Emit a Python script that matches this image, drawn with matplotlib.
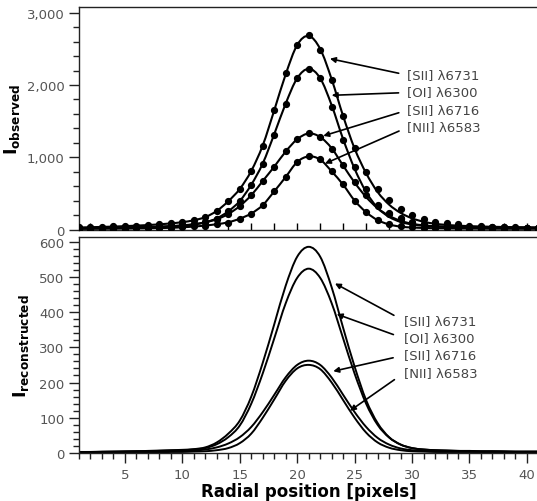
import matplotlib
matplotlib.use("Agg")
import matplotlib.pyplot as plt
from matplotlib.path import Path
from matplotlib.patches import PathPatch
from matplotlib.ticker import MultipleLocator, FuncFormatter

# radial positions in pixels
radial = list(range(1, 42))

# observed intensities (dots)
sii6731_obs = [30, 33, 37, 42, 48, 55, 63, 72, 85, 100, 125, 170, 260, 390, 560, 810, 1160, 1660, 2160, 2560,
               2690, 2490, 2070, 1570, 1130, 800, 565, 405, 290, 205, 145, 108, 85, 70, 55, 45, 38, 32, 28, 25, 22]
oi6300_obs = [15, 17, 20, 22, 25, 28, 32, 37, 45, 55, 70, 100, 152, 253, 391, 622, 913, 1314, 1743, 2098,
              2220, 2098, 1700, 1240, 870, 560, 340, 215, 140, 95, 70, 52, 42, 35, 30, 27, 24, 22, 20, 18, 17]
sii6716_obs = [20, 22, 24, 27, 30, 33, 37, 42, 50, 60, 75, 100, 140, 215, 330, 475, 674, 867, 1083, 1250,
               1335, 1282, 1120, 890, 660, 475, 330, 230, 160, 110, 80, 60, 48, 40, 35, 32, 30, 28, 27, 26, 25]
nii6583_obs = [10, 11, 12, 13, 14, 15, 17, 20, 25, 32, 42, 55, 72, 97, 152, 221, 336, 530, 729, 936,
               1015, 972, 806, 625, 400, 245, 135, 75, 45, 30, 22, 18, 15, 13, 12, 11, 10, 10, 9, 9, 9]

# fitted profiles (lines, top panel)
sii6731_fit = [28, 32, 36, 41, 47, 54, 62, 72, 85, 102, 128, 172, 258, 392, 562, 812, 1165, 1650, 2150, 2555,
               2680, 2500, 2080, 1570, 1120, 780, 520, 345, 230, 155, 108, 80, 64, 54, 47, 42, 38, 35, 32, 30, 28]
oi6300_fit = [14, 16, 19, 21, 24, 27, 31, 36, 44, 54, 70, 100, 155, 252, 395, 620, 915, 1320, 1745, 2095,
              2225, 2095, 1720, 1250, 840, 520, 300, 175, 105, 70, 52, 42, 36, 32, 30, 28, 26, 25, 24, 23, 22]
sii6716_fit = [18, 21, 23, 26, 29, 32, 36, 41, 48, 58, 74, 100, 142, 215, 325, 475, 672, 870, 1080, 1250,
               1330, 1280, 1125, 885, 650, 450, 295, 190, 120, 80, 58, 46, 40, 36, 33, 31, 29, 28, 27, 26, 25]
nii6583_fit = [9, 10, 11, 12, 13, 15, 17, 20, 24, 31, 41, 55, 74, 100, 150, 222, 338, 528, 728, 935,
               1012, 968, 805, 620, 400, 240, 130, 70, 40, 28, 22, 18, 16, 14, 13, 12, 11, 11, 10, 10, 10]

# reconstructed intensities (bottom panel)
sii6731_rec = [3, 3, 4, 4, 5, 5, 6, 7, 8, 9, 11, 16, 30, 55, 92, 160, 256, 365, 475, 557,
               585, 557, 470, 355, 245, 150, 85, 45, 24, 14, 10, 8, 7, 6, 6, 5, 5, 5, 4, 4, 4]
oi6300_rec = [3, 3, 3, 4, 4, 5, 5, 6, 7, 8, 10, 14, 25, 45, 78, 140, 226, 325, 425, 497,
              523, 497, 425, 325, 225, 140, 80, 44, 24, 14, 10, 8, 7, 6, 5, 5, 5, 4, 4, 4, 4]
sii6716_rec = [2, 2, 3, 3, 3, 4, 4, 5, 5, 6, 7, 10, 16, 27, 45, 74, 116, 165, 215, 250,
               262, 250, 214, 165, 116, 74, 43, 24, 13, 8, 6, 5, 4, 4, 4, 3, 3, 3, 3, 3, 3]
nii6583_rec = [1, 1, 1, 1, 2, 2, 2, 2, 3, 3, 4, 5, 8, 14, 28, 55, 100, 152, 205, 240,
               250, 238, 200, 150, 100, 58, 30, 15, 8, 5, 4, 3, 3, 3, 3, 3, 2, 2, 2, 2, 2]

labels = ["[SII] λ6731", "[OI] λ6300", "[SII] λ6716", "[NII] λ6583"]

# arrow tips and label positions (data coords)
top_tips = [(22.85, 2365), (23.0, 1858), (22.27, 1296), (22.42, 913)]
top_text_y = [2148, 1905, 1660, 1420]
bot_tips = [(23.29, 481), (23.44, 394), (23.14, 232), (24.6, 120)]
bot_text_y = [377, 327, 279, 229]

tick_col = "#555555"
text_col = "#444444"


def smooth_line(ax, xs, ys, lw):
    # bezier path through the points (catmull-rom handles)
    verts = [(xs[0], ys[0])]
    codes = [Path.MOVETO]
    n = len(xs)
    for i in range(n - 1):
        x0, y0 = xs[max(i - 1, 0)], ys[max(i - 1, 0)]
        x1, y1 = xs[i], ys[i]
        x2, y2 = xs[i + 1], ys[i + 1]
        x3, y3 = xs[min(i + 2, n - 1)], ys[min(i + 2, n - 1)]
        c1 = (x1 + (x2 - x0) / 6, y1 + (y2 - y0) / 6)
        c2 = (x2 - (x3 - x1) / 6, y2 - (y3 - y1) / 6)
        verts += [c1, c2, (x2, y2)]
        codes += [Path.CURVE4] * 3
    ax.add_patch(PathPatch(Path(verts, codes), fill=False, edgecolor="black", lw=lw, zorder=2))


fig = plt.figure(figsize=(5.37, 5.02), dpi=100)
ax1 = fig.add_axes([0.1471, 0.5408, 0.8555, 0.4432])
ax2 = fig.add_axes([0.1471, 0.0956, 0.8555, 0.4297])

obs = [sii6731_obs, oi6300_obs, sii6716_obs, nii6583_obs]
fits = [sii6731_fit, oi6300_fit, sii6716_fit, nii6583_fit]
recs = [sii6731_rec, oi6300_rec, sii6716_rec, nii6583_rec]

for o, f in zip(obs, fits):
    smooth_line(ax1, radial, f, 1.5)
    ax1.plot(radial, o, "o", color="black", ms=4.2, zorder=3)

for r in recs:
    smooth_line(ax2, radial, r, 1.4)

ax1.set_xlim(1, 41)
ax1.set_ylim(0, 3080)
ax2.set_xlim(1, 41)
ax2.set_ylim(0, 612)

for ax in (ax1, ax2):
    ax.spines["right"].set_visible(False)
    for s in ax.spines.values():
        s.set_linewidth(1.0)
        s.set_color("#222222")

# top panel ticks
ax1.xaxis.set_major_locator(MultipleLocator(2))
ax1.tick_params(axis="x", direction="in", length=5, width=1, labelbottom=False)
ax1.yaxis.set_major_locator(MultipleLocator(1000))
ax1.yaxis.set_minor_locator(MultipleLocator(200))
ax1.yaxis.set_major_formatter(FuncFormatter(lambda v, p: f"{int(v):,}"))
ax1.tick_params(axis="y", which="major", direction="out", length=7, width=1,
                labelsize=9.5, labelcolor=tick_col, color="#222222")
ax1.tick_params(axis="y", which="minor", direction="out", length=4, width=1, color="#222222")

# bottom panel ticks
ax2.xaxis.set_major_locator(MultipleLocator(5))
ax2.xaxis.set_minor_locator(MultipleLocator(1))
ax2.yaxis.set_major_locator(MultipleLocator(100))
ax2.yaxis.set_minor_locator(MultipleLocator(20))
ax2.tick_params(which="major", direction="out", length=7, width=1,
                labelsize=9.5, labelcolor=tick_col, color="#222222")
ax2.tick_params(which="minor", direction="out", length=4, width=1, color="#222222")
ax2.set_xticks([5, 10, 15, 20, 25, 30, 35, 40])

ax1.set_ylabel(r"$\mathbf{I_{observed}}$", fontsize=12.5, labelpad=3)
ax2.set_ylabel(r"$\mathbf{I_{reconstructed}}$", fontsize=12.5, labelpad=6)
ax2.set_xlabel("Radial position [pixels]", fontsize=12, fontweight="bold", labelpad=1)

for lab, tip, ty in zip(labels, top_tips, top_text_y):
    ax1.annotate(lab, xy=tip, xytext=(29.55, ty), ha="left", va="center",
                 fontsize=9.5, color=text_col,
                 arrowprops=dict(arrowstyle="-|>", color="black", lw=1.2,
                                 mutation_scale=8, relpos=(0, 0.45),
                                 shrinkA=4, shrinkB=0))

for lab, tip, ty in zip(labels, bot_tips, bot_text_y):
    ax2.annotate(lab, xy=tip, xytext=(29.3, ty), ha="left", va="center",
                 fontsize=9.5, color=text_col,
                 arrowprops=dict(arrowstyle="-|>", color="black", lw=1.2,
                                 mutation_scale=8, relpos=(0, 0.45),
                                 shrinkA=6, shrinkB=0))

fig.savefig("out.png", dpi=100)
